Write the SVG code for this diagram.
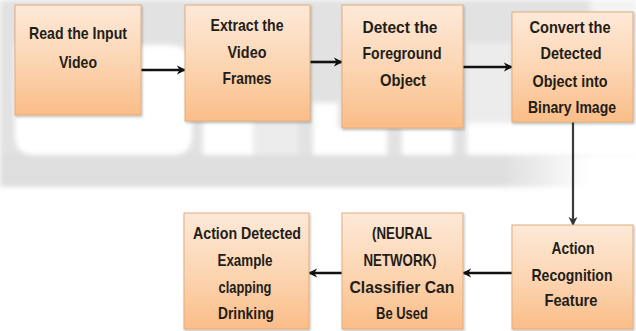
<svg xmlns="http://www.w3.org/2000/svg" width="636" height="331" viewBox="0 0 636 331">
<defs>
<linearGradient id="boxfill" x1="0" y1="0" x2="0" y2="1">
<stop offset="0" stop-color="#fde9d8"/>
<stop offset="0.5" stop-color="#fcd6b4"/>
<stop offset="1" stop-color="#fabd88"/>
</linearGradient>
<linearGradient id="bandfade" x1="0" y1="0" x2="1" y2="0">
<stop offset="0" stop-color="#dedede"/>
<stop offset="0.85" stop-color="#dedede"/>
<stop offset="1" stop-color="#dedede" stop-opacity="0"/>
</linearGradient>
<filter id="blur" x="-5%" y="-5%" width="110%" height="110%">
<feGaussianBlur stdDeviation="2.5"/>
</filter>
<filter id="shadow" x="-10%" y="-10%" width="125%" height="125%">
<feDropShadow dx="1" dy="1.5" stdDeviation="1" flood-color="#000" flood-opacity="0.25"/>
</filter>
<marker id="ah" viewBox="0 0 10 10" refX="9" refY="5" markerWidth="9" markerHeight="10" markerUnits="userSpaceOnUse" orient="auto">
<path d="M0,0 L10,5 L0,10 L3,5 Z" fill="#111"/>
</marker>
<marker id="ahg" viewBox="0 0 10 10" refX="9" refY="5" markerWidth="9" markerHeight="10" markerUnits="userSpaceOnUse" orient="auto">
<path d="M0,0 L10,5 L0,10 L3,5 Z" fill="#333"/>
</marker>
</defs>
<style>
.box{fill:url(#boxfill);stroke:#e2ad7c;stroke-width:1;filter:url(#shadow)}
.t{font-family:"Liberation Sans",Arial,sans-serif;font-weight:bold;font-size:17px;fill:#231d18;text-anchor:middle}
.c{stroke:#111;stroke-width:2.6;fill:none;marker-end:url(#ah)}
.cv{stroke:#3a3a3a;stroke-width:2.2;fill:none;marker-end:url(#ahg)}
</style>
<rect x="0" y="0" width="636" height="331" fill="#ffffff"/>
<g id="watermark" filter="url(#blur)">
<rect x="0" y="0" width="636" height="156" fill="#e2e2e2"/>
<rect x="0" y="154" width="590" height="33" fill="url(#bandfade)"/>
<path d="M15,45 L168,45 Q192,45 192,70 L192,135 Q192,155 172,155 L35,155 Q15,155 15,135 Z" fill="#ffffff"/>
<rect x="203" y="121" width="50" height="34" fill="#ffffff"/>
<rect x="253" y="121" width="45" height="34" fill="#ececec"/>
<rect x="313" y="103" width="25" height="52" fill="#ffffff"/>
<rect x="338" y="128" width="49" height="27" fill="#ffffff"/>
<rect x="402" y="128" width="51" height="27" fill="#ffffff"/>
<rect x="467" y="122" width="169" height="33" fill="#ffffff"/>
<rect x="467" y="43" width="45" height="80" fill="#ececec"/>
<rect x="590" y="0" width="46" height="156" fill="#ffffff" opacity="0.6"/>
</g>
<g id="connectors">
<path class="c" d="M141,70 L185,70"/>
<path class="c" d="M310,62 L342,62"/>
<path class="c" d="M463,67 L512,67"/>
<path class="cv" d="M573,122 L573,225"/>
<path class="c" d="M512,273 L463,273"/>
<path class="c" d="M342,273 L309,273"/>
</g>
<g id="n1">
<rect class="box" x="15" y="5" width="126" height="110"/>
<text class="t" x="78" y="39" textLength="98" lengthAdjust="spacingAndGlyphs">Read the Input</text>
<text class="t" x="78" y="68" textLength="38" lengthAdjust="spacingAndGlyphs">Video</text>
</g>
<g id="n2">
<rect class="box" x="185" y="5" width="125" height="116"/>
<text class="t" x="247" y="31" textLength="73" lengthAdjust="spacingAndGlyphs">Extract the</text>
<text class="t" x="247" y="58" textLength="39" lengthAdjust="spacingAndGlyphs">Video</text>
<text class="t" x="247" y="84" textLength="49" lengthAdjust="spacingAndGlyphs">Frames</text>
</g>
<g id="n3">
<rect class="box" x="342" y="5" width="121" height="123"/>
<text class="t" x="400" y="33" textLength="75" lengthAdjust="spacingAndGlyphs">Detect the</text>
<text class="t" x="402" y="59" textLength="79" lengthAdjust="spacingAndGlyphs">Foreground</text>
<text class="t" x="403" y="86" textLength="46" lengthAdjust="spacingAndGlyphs">Object</text>
</g>
<g id="n4">
<rect class="box" x="512" y="12" width="121" height="110"/>
<text class="t" x="570" y="33" textLength="81" lengthAdjust="spacingAndGlyphs">Convert the</text>
<text class="t" x="571" y="59" textLength="61" lengthAdjust="spacingAndGlyphs">Detected</text>
<text class="t" x="570" y="87" textLength="75" lengthAdjust="spacingAndGlyphs">Object into</text>
<text class="t" x="572" y="113" textLength="88" lengthAdjust="spacingAndGlyphs">Binary Image</text>
</g>
<g id="n5">
<rect class="box" x="184" y="213" width="125" height="116"/>
<text class="t" x="247" y="239" textLength="108" lengthAdjust="spacingAndGlyphs">Action Detected</text>
<text class="t" x="245" y="266" textLength="55" lengthAdjust="spacingAndGlyphs">Example</text>
<text class="t" x="245" y="293" textLength="53" lengthAdjust="spacingAndGlyphs">clapping</text>
<text class="t" x="246" y="319" textLength="56" lengthAdjust="spacingAndGlyphs">Drinking</text>
</g>
<g id="n6">
<rect class="box" x="342" y="213" width="121" height="116"/>
<text class="t" x="402" y="239" textLength="60" lengthAdjust="spacingAndGlyphs">(NEURAL</text>
<text class="t" x="400" y="266" textLength="73" lengthAdjust="spacingAndGlyphs">NETWORK)</text>
<text class="t" x="402" y="293" textLength="105" lengthAdjust="spacingAndGlyphs">Classifier Can</text>
<text class="t" x="402" y="319" textLength="52" lengthAdjust="spacingAndGlyphs">Be Used</text>
</g>
<g id="n7">
<rect class="box" x="512" y="225" width="121" height="104"/>
<text class="t" x="573" y="254" textLength="43" lengthAdjust="spacingAndGlyphs">Action</text>
<text class="t" x="572" y="281" textLength="81" lengthAdjust="spacingAndGlyphs">Recognition</text>
<text class="t" x="571" y="306" textLength="53" lengthAdjust="spacingAndGlyphs">Feature</text>
</g>
</svg>
